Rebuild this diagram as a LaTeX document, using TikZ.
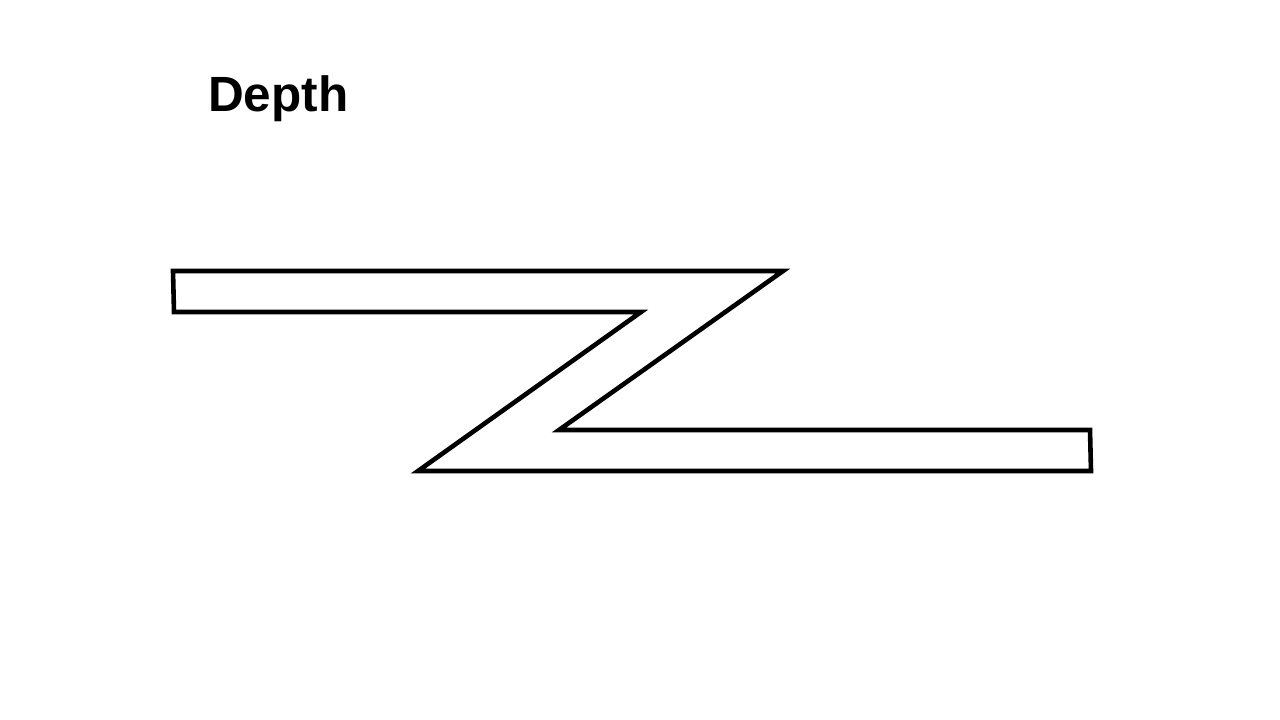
\documentclass[tikz,border=0pt]{standalone}
\usepackage{fontspec}
\setmainfont{Liberation Sans}
\begin{document}
\begin{tikzpicture}[x=1pt,y=-1pt,
  zshape/.style={draw=black,line width=4.6pt,line join=miter,fill=white},
  title/.style={font=\fontsize{49.5}{58}\selectfont\bfseries,inner sep=0pt,anchor=base west}]
\useasboundingbox (0,0) rectangle (1280,720);
\fill[white] (0,0) rectangle (1280,720);
\node[title] (depth) at (208,111) {Depth};
\coordinate (a) at (173,271);
\coordinate (b) at (783,271);
\coordinate (c) at (559,430);
\coordinate (d) at (1090,430);
\coordinate (e) at (1091,471);
\coordinate (f) at (418,471);
\coordinate (g) at (641,312);
\coordinate (h) at (174,312);
\draw[zshape] (a) -- (b) -- (c) -- (d) -- (e) -- (f) -- (g) -- (h) -- cycle;
\end{tikzpicture}
\end{document}
